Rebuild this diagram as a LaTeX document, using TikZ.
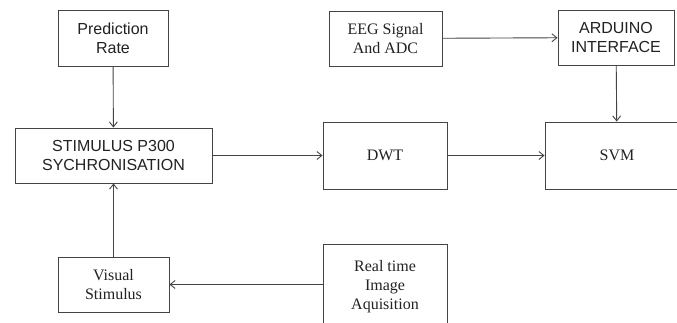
\documentclass[tikz,border=0pt]{standalone}
\usepackage{fontspec}
\setmainfont{Liberation Serif}
\newfontfamily\arialfont{Liberation Sans}
\usetikzlibrary{arrows.meta}
\definecolor{linec}{HTML}{444444}
\definecolor{txtc}{HTML}{222222}
\tikzset{
  blk/.style={draw=linec, line width=0.9pt, align=center, inner sep=0pt, text=txtc, font=\fontsize{16}{19}\selectfont},
  sblk/.style={blk, font=\arialfont\fontsize{16}{19}\selectfont},
  conn/.style={draw=linec, line width=0.9pt, -{Straight Barb[length=5pt,width=8pt]}}
}
\begin{document}
\begin{tikzpicture}[x=1pt,y=-1pt]
\clip (0,0) rectangle (677,322);
\fill[white] (0,0) rectangle (677,322);
\node[sblk, minimum width=110pt, minimum height=56pt] (pr) at (113,38) {Prediction\\Rate};
\node[sblk, minimum width=197pt, minimum height=55pt] (st) at (113.5,155.5) {STIMULUS P300\\SYCHRONISATION};
\node[blk, minimum width=113pt, minimum height=55pt] (eeg) at (385.5,38.5) {EEG Signal\\And ADC};
\node[sblk, minimum width=116pt, minimum height=55pt] (ard) at (616,37.5) {ARDUINO\\INTERFACE};
\node[blk, minimum width=124pt, minimum height=67pt] (dwt) at (385,155.5) {DWT};
\node[blk, minimum width=144pt, minimum height=67pt] (svm) at (617,155.5) {SVM};
\node[blk, minimum width=111pt, minimum height=55pt] (vis) at (113.5,284.5) {Visual\\Stimulus};
\node[blk, minimum width=124pt, minimum height=86pt] (rt) at (385,287) {Real time\\Image\\Aquisition};
\draw[conn] (pr) -- (st);
\draw[conn] (eeg) -- (ard);
\draw[conn] (ard) -- (svm);
\draw[conn] (st) -- (dwt);
\draw[conn] (dwt) -- (svm);
\draw[conn] (rt.west |- vis) -- (vis);
\draw[conn] (vis) -- (st);
\end{tikzpicture}
\end{document}
